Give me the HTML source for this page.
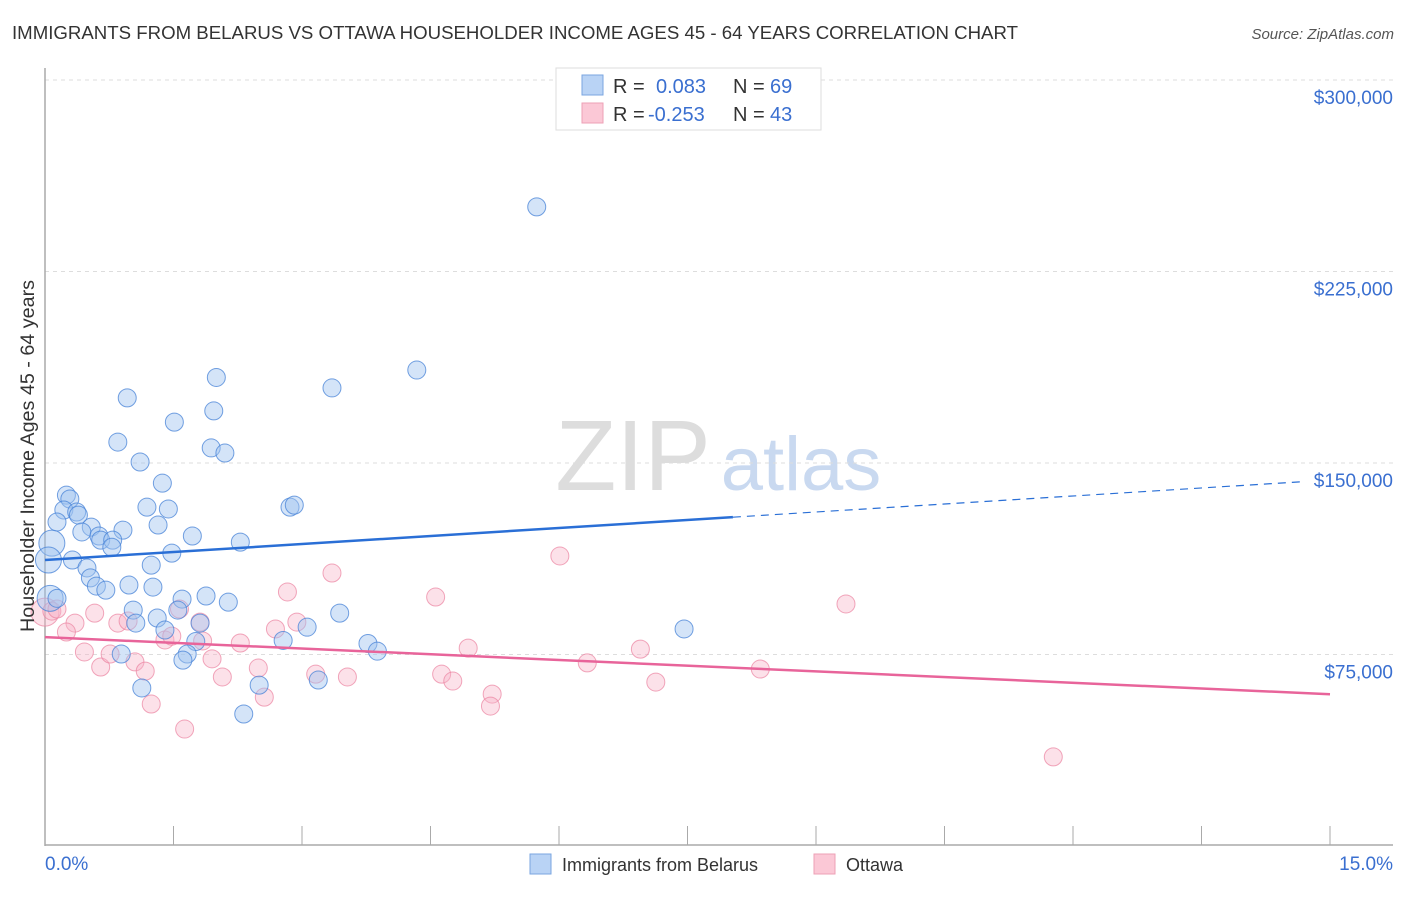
<!DOCTYPE html>
<html><head><meta charset="utf-8"><style>
body{margin:0;background:#fff;font-family:"Liberation Sans",sans-serif;}
svg text{font-family:"Liberation Sans",sans-serif;}
</style></head><body>
<svg id="chart" width="1406" height="892" xmlns="http://www.w3.org/2000/svg">
<text x="12" y="39" font-size="18" fill="#333" textLength="1006" lengthAdjust="spacingAndGlyphs">IMMIGRANTS FROM BELARUS VS OTTAWA HOUSEHOLDER INCOME AGES 45 - 64 YEARS CORRELATION CHART</text>
<text x="1394" y="39" font-size="15" fill="#555" font-style="italic" text-anchor="end">Source: ZipAtlas.com</text>
<g>
<text x="633" y="490" font-size="100" fill="#ddd" font-family="Liberation Serif" text-anchor="middle">ZIP</text>
<text x="801" y="490" font-size="76" fill="#c9d9f0" text-anchor="middle">atlas</text>
</g>
<g id="grid"></g><g id="axes"></g><g id="pink"></g><g id="blue"></g><g id="trends"></g>
<text transform="translate(34,456) rotate(-90)" font-size="19" fill="#333" text-anchor="middle" textLength="352" lengthAdjust="spacingAndGlyphs">Householder Income Ages 45 - 64 years</text>
<g>
<rect x="556" y="68" width="265" height="62" fill="#fff" stroke="#ddd"/>
<rect x="582" y="75" width="21" height="20" fill="#b9d3f5" stroke="#7aa6e0"/>
<rect x="582" y="103" width="21" height="20" fill="#fbc8d6" stroke="#eea0b6"/>
<text x="613" y="93" font-size="20" fill="#333">R = </text><text x="656" y="93" font-size="20" fill="#3a6fd0">0.083</text>
<text x="733" y="93" font-size="20" fill="#333">N = </text><text x="770" y="93" font-size="20" fill="#3a6fd0">69</text>
<text x="613" y="121" font-size="20" fill="#333">R = </text><text x="648" y="121" font-size="20" fill="#3a6fd0">-0.253</text>
<text x="733" y="121" font-size="20" fill="#333">N = </text><text x="770" y="121" font-size="20" fill="#3a6fd0">43</text>
</g>
<g>
<rect x="530" y="854" width="21" height="20" fill="#b9d3f5" stroke="#7aa6e0"/>
<text x="562" y="871" font-size="18" fill="#333">Immigrants from Belarus</text>
<rect x="814" y="854" width="21" height="20" fill="#fbc8d6" stroke="#eea0b6"/>
<text x="846" y="871" font-size="18" fill="#333">Ottawa</text>
</g>
</svg>
<script>
const yTicks=[75000,150000,225000,300000];
const yTickLabels=["$75,000","$150,000","$225,000","$300,000"];
const xTicks=[0,1.5,3,4.5,6,7.5,9,10.5,12,13.5,15];
const blueX=[5.74,4.34,3.35,2.00,0.96,1.97,1.51,0.85,1.94,2.10,1.11,1.37,0.25,0.29,1.19,2.86,2.91,0.22,1.44,0.37,0.39,0.14,1.32,0.54,0.91,0.43,0.63,1.72,0.65,0.79,2.28,0.08,0.78,1.48,0.04,0.32,1.24,0.49,0.53,0.98,0.60,0.71,1.26,0.06,0.14,1.60,1.88,2.14,1.03,1.55,3.44,1.31,1.06,1.81,3.06,7.46,1.40,1.76,2.78,3.77,3.88,0.89,1.66,1.61,3.19,2.50,1.13,2.32];
const blueY=[250.3,186.4,179.4,183.5,175.5,170.4,166,158.2,155.9,153.9,150.4,142.1,137.4,135.9,132.7,132.7,133.5,131.6,132,130.8,129.6,126.9,125.7,124.9,123.7,123,121.4,121.4,119.8,119.8,119,118.6,117,114.7,112,112,110,108.9,105,102.2,101.8,100.2,101.4,97,97,96.7,97.9,95.5,92.4,92.4,91.2,89.3,87.3,87.3,85.7,85,84.6,80.1,80.5,79.3,76.3,75.2,75.2,72.8,65,63,61.9,51.7];
const pinkX=[0,0.08,0.14,0.35,0.58,0.25,0.46,0.65,0.76,0.85,0.97,1.05,1.17,1.24,1.40,1.48,1.57,1.63,1.81,1.84,1.95,2.07,2.28,2.49,2.56,2.69,2.83,2.94,3.35,3.16,3.53,4.56,4.63,4.76,4.94,5.22,5.20,6.01,6.33,6.95,7.13,8.35,9.35,11.77];
const pinkY=[91.6,92,92.8,87.3,91.2,83.8,76,70.1,75.2,87.3,88.1,72.1,68.5,55.6,80.7,82.2,92.8,45.8,87.7,80.3,73.3,66.2,79.5,69.7,58.3,85,99.5,87.7,106.9,67.3,66.2,97.5,67.3,64.6,77.5,59.5,54.8,113.6,71.7,77.1,64.2,69.3,94.8,34.9];
const blueTrend=[112,2.09]; // intercept (k$), slope per %
const pinkTrend=[81.8,-1.49];
const NS="http://www.w3.org/2000/svg";
const X=p=>45+p/15*1285;
const Y=v=>80+(300000-v)/75000*191.5;
function mk(tag,attrs,parent){const e=document.createElementNS(NS,tag);for(const k in attrs)e.setAttribute(k,attrs[k]);document.getElementById(parent).appendChild(e);return e;}
yTicks.forEach((t,i)=>{
 const l=mk('line',{x1:45,x2:1393,y1:Y(t),y2:Y(t),stroke:'#ddd','stroke-dasharray':'4,4'},'grid');
 
 
 const tx=mk('text',{x:1393,y:Y(t)+24,'font-size':19,fill:'#3a6fd0','text-anchor':'end'},'grid');
 tx.textContent=yTickLabels[i];
 
 
});
const ya=mk('line',{x1:45,x2:45,y1:68,y2:846,stroke:'#aaa','stroke-width':1.5},'axes');


const xa=mk('line',{x1:45,x2:1393,y1:845,y2:845,stroke:'#aaa','stroke-width':1.5},'axes');


xTicks.forEach(t=>{const l=mk('line',{x1:X(t),x2:X(t),y1:826,y2:845,stroke:'#aaa'},'axes');
 
 });
const x0=mk('text',{x:45,y:870,'font-size':19,fill:'#3a6fd0'},'axes');x0.textContent='0.0%';


const x1=mk('text',{x:1393,y:870,'font-size':19,fill:'#3a6fd0','text-anchor':'end'},'axes');x1.textContent='15.0%';


pinkX.forEach((p,i)=>{const c=mk('circle',{cx:X(p),cy:Y(pinkY[i]*1000),r:i==0?14:9,fill:'rgba(248,180,200,0.4)',stroke:'rgba(235,130,160,0.7)','stroke-width':1},'pink');
 
 });
blueX.forEach((p,i)=>{const c=mk('circle',{cx:X(p),cy:Y(blueY[i]*1000),r:(p<0.1?13:9),fill:'rgba(160,195,240,0.45)',stroke:'rgba(70,130,215,0.75)','stroke-width':1},'blue');
 
 });
const bt=v=>(blueTrend[0]+blueTrend[1]*v)*1000, pt=v=>(pinkTrend[0]+pinkTrend[1]*v)*1000;
const b1=mk('line',{x1:X(0),y1:Y(bt(0)),x2:X(8.03),y2:Y(bt(8.03)),stroke:'#2a6fd6','stroke-width':2.5},'trends');


const b2=mk('line',{x1:X(8.03),y1:Y(bt(8.03)),x2:X(14.65),y2:Y(bt(14.65)),stroke:'#2a6fd6','stroke-width':1.2,'stroke-dasharray':'8,6'},'trends');


const p1=mk('line',{x1:X(0),y1:Y(pt(0)),x2:X(15),y2:Y(pt(15)),stroke:'#e8649a','stroke-width':2.5},'trends');


</script>
</body></html>
